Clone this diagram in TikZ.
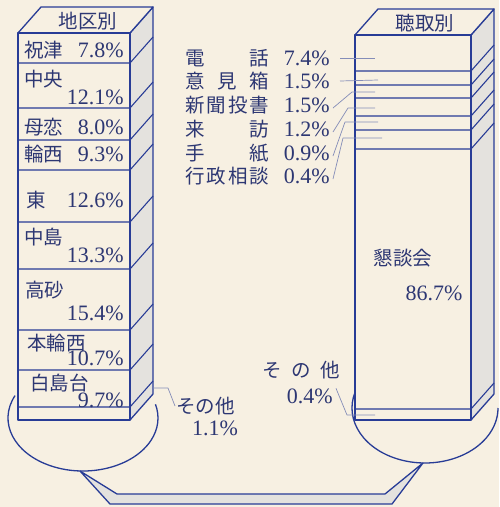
\documentclass[tikz,border=0pt]{standalone}
\usepackage{fontspec}
\newfontfamily\jp{Noto Sans CJK JP}
\newfontfamily\digits{Liberation Serif}
\definecolor{paper}{RGB}{247,240,226}
\definecolor{ink}{RGB}{40,60,150}
\definecolor{txt}{RGB}{45,55,115}
\definecolor{side}{RGB}{228,226,222}
\begin{document}
\begin{tikzpicture}[x=1pt,y=-1pt,line join=round,
    frame/.style={ink,line width=1.3pt},
    row/.style={ink,line width=1.1pt},
    lead/.style={ink!55!paper,line width=0.7pt},
    lab/.style={txt,inner sep=0pt,font=\fontsize{19.5}{20}\selectfont\jp},
    num/.style={txt,inner sep=0pt,font=\fontsize{22}{22}\selectfont\digits}]
    % Fond
    \path[use as bounding box,fill=paper] (0,0) rectangle (499,507);
    % Socles (ellipses et bande)
    \draw[frame] (83,418) ++(205:75 and 53) arc (205:-15:75 and 53);
    \draw[frame] (425,408) ++(203:73 and 55) arc (203:0:73 and 55);
    \filldraw[frame,fill=side] (80,471) -- (117,494) -- (385,494) -- (423,463) -- (392,504) -- (110,504) -- cycle;
    % Blocs
    \foreach \xa/\xb/\ya in {18/130/33, 355/471/35}{
      \filldraw[frame,fill=side] (\xb,\ya) -- ++(23,-26) -- (\xb+23,394) -- (\xb,420) -- cycle;
      \filldraw[frame,fill=paper] (\xa,\ya) -- ++(23,-26) -- (\xb+23,\ya-26) -- (\xb,\ya) -- cycle;
      \filldraw[frame,fill=paper] (\xa,\ya) rectangle (\xb,420);
    }
    % Lignes des rangs
    \foreach \y in {63,108,140,170,222,269,330,370,407}{\draw[row] (18,\y) -- (130,\y) -- ++(23,-26);}
    \foreach \y in {71,85,98,116,130,149,409}{\draw[row] (355,\y) -- (471,\y) -- ++(23,-26);}
    % Titres
    \node[lab] (t1) at (88,21) {地区別};
    \node[lab] (t2) at (425,23) {聴取別};
    % Districts
    \foreach \i/\t/\xt/\yt/\n/\yn in {1/祝津/24/50/7.8/50, 2/中央/24/79/12.1/97, 3/母恋/24/127/8.0/127,
        4/輪西/24/154/9.3/154, 5/東/26/200/12.6/200, 6/中島/24/237/13.3/255,
        7/高砂/25/290/15.4/313, 8/本輪西/27/343/10.7/358, 9/白島台/30/383/9.7/400}{
      \node[lab,anchor=west] (d\i) at (\xt,\yt) {\t};
      \node[num,anchor=east] (p\i) at (124,\yn) {\n\%};
    }
    % Modes d'ecoute
    \foreach \i/\t/\n/\y in {1/{電\hfill 話}/7.4/58, 2/{意\hfill 見\hfill 箱}/1.5/81, 3/{新\hfill 聞\hfill 投\hfill 書}/1.5/105,
        4/{来\hfill 訪}/1.2/129, 5/{手\hfill 紙}/0.9/153, 6/{行\hfill 政\hfill 相\hfill 談}/0.4/176}{
      \node[lab,anchor=west] (m\i) at (185,\y) {\makebox[84pt][s]{\t}};
      \node[num,anchor=east] (q\i) at (330,\y) {\n\%};
    }
    \coordinate (e1) at (375,58);
    \coordinate (e2) at (378,80);
    \draw[lead] ([xshift=10pt]q1.east) -- (e1);
    \draw[lead] ([xshift=10pt]q2.east) -- (e2);
    \foreach \i/\bx/\by/\ex in {3/352/92/375, 4/348/108/375, 5/345/122/378, 6/343/138/382}{
      \coordinate (e\i) at (\ex,\by);
      \draw[lead] ([xshift=3pt,yshift=-3pt]q\i.east) -- (\bx,\by) -- (e\i);
    }
    \node[lab] (k1) at (403,258) {懇談会};
    \node[num] (k2) at (434,293) {86.7\%};
    % Autres
    \node[lab,anchor=west] (s1) at (176,406) {その他};
    \node[num] (s2) at (215,428) {1.1\%};
    \coordinate (c1) at (153,388);
    \draw[lead] (c1) -- (168,388) -- ([xshift=-1pt]s1.west);
    \node[lab] (s3) at (301,370) {\makebox[78pt][s]{そ\hfill の\hfill 他}};
    \node[num,anchor=east] (s4) at (333,396) {0.4\%};
    \coordinate (c2) at (375,415);
    \draw[lead] ([xshift=3pt]s4.north east) -- (347,415) -- (c2);
  \end{tikzpicture}
\end{document}
